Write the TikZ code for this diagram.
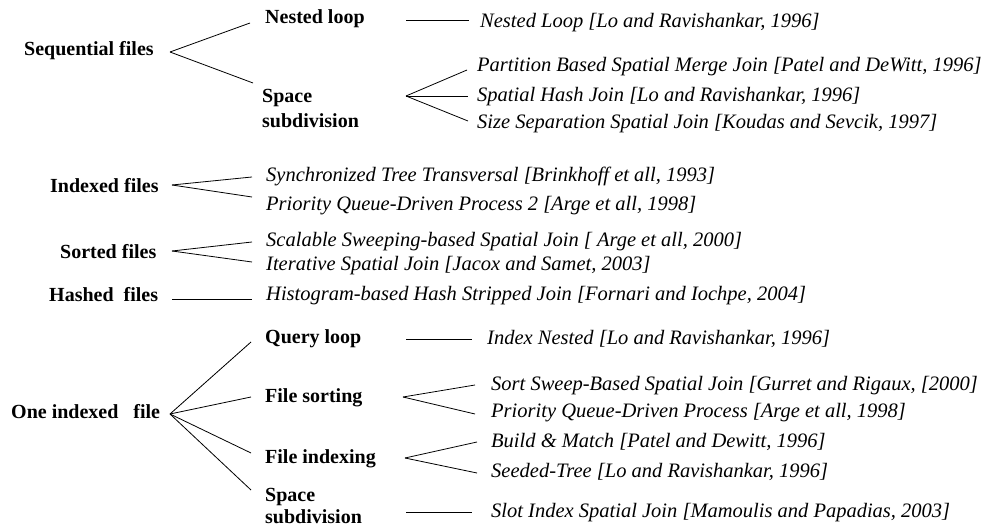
\documentclass[tikz,border=0pt]{standalone}
\usepackage{fontspec}
\setmainfont{Liberation Serif}
\begin{document}
\begin{tikzpicture}[x=1pt,y=-1pt,
  cat/.style={font=\bfseries\fontsize{20}{24}\selectfont, anchor=west, inner sep=0pt, align=left},
  ref/.style={font=\itshape\fontsize{20.5}{24}\selectfont, anchor=west, inner sep=0pt},
  conn/.style={line width=0.8pt}]
\useasboundingbox (0,0) rectangle (1001,526);
% categories
\node[cat] (seq) at (24,51) {Sequential files};
\node[cat] (nl) at (265,19) {Nested loop};
\node[cat] (ss1) at (262,108.5) {Space\\[0.5pt]subdivision};
\node[cat] (idx) at (50,186) {Indexed files};
\node[cat] (srt) at (60,252) {Sorted files};
\node[cat] (hsh) at (49,295) {Hashed\ \ files};
\node[cat] (one) at (11,412) {One indexed\ \ \ file};
\node[cat] (ql) at (265,339) {Query loop};
\node[cat] (fs) at (265,398) {File sorting};
\node[cat] (fi) at (265,459) {File indexing};
\node[cat] (ss2) at (265,506) {Space\\[-2pt]subdivision};
% references
\node[ref] (r1) at (480,23) {Nested Loop [Lo and Ravishankar, 1996]};
\node[ref] (r2) at (477,67) {Partition Based Spatial Merge Join [Patel and DeWitt, 1996]};
\node[ref] (r3) at (477,97) {Spatial Hash Join [Lo and Ravishankar, 1996]};
\node[ref] (r4) at (477,124) {Size Separation Spatial Join [Koudas and Sevcik, 1997]};
\node[ref] (r5) at (266,176) {Synchronized Tree Transversal [Brinkhoff et all, 1993]};
\node[ref] (r6) at (266,206) {Priority Queue-Driven Process 2 [Arge et all, 1998]};
\node[ref] (r7) at (266,242) {Scalable Sweeping-based Spatial Join [ Arge et all, 2000]};
\node[ref] (r8) at (266,266) {Iterative Spatial Join [Jacox and Samet, 2003]};
\node[ref] (r9) at (266,296) {Histogram-based Hash Stripped Join [Fornari and Iochpe, 2004]};
\node[ref] (r10) at (487,339) {Index Nested [Lo and Ravishankar, 1996]};
\node[ref] (r11) at (491,386) {Sort Sweep-Based Spatial Join [Gurret and Rigaux, [2000]};
\node[ref] (r12) at (491,413) {Priority Queue-Driven Process [Arge et all, 1998]};
\node[ref] (r13) at (491,442) {Build \& Match [Patel and Dewitt, 1996]};
\node[ref] (r14) at (491,472) {Seeded-Tree [Lo and Ravishankar, 1996]};
\node[ref] (r15) at (491,513) {Slot Index Spatial Join [Mamoulis and Papadias, 2003]};
% connector points
\coordinate (aseq) at (170,52);
\coordinate (anl) at (406,20);
\coordinate (ass1) at (406,96);
\coordinate (aidx) at (172,185);
\coordinate (asrt) at (172,251);
\coordinate (ahsh) at (172,299);
\coordinate (aone) at (170,414);
\coordinate (aql) at (406,339);
\coordinate (afs) at (403,397);
\coordinate (afi) at (405,458);
\coordinate (ass2) at (406,512);
\draw[conn] (aseq) -- (250,23);
\draw[conn] (aseq) -- (253,83);
\draw[conn] (anl) -- (469,20);
\draw[conn] (ass1) -- (467,70);
\draw[conn] (ass1) -- (468,96);
\draw[conn] (ass1) -- (468,121);
\draw[conn] (aidx) -- (252,177);
\draw[conn] (aidx) -- (252,197);
\draw[conn] (asrt) -- (252,242);
\draw[conn] (asrt) -- (252,262);
\draw[conn] (ahsh) -- (252,299);
\draw[conn] (aone) -- (251,342);
\draw[conn] (aone) -- (251,397);
\draw[conn] (aone) -- (251,453);
\draw[conn] (aone) -- (251,490);
\draw[conn] (aql) -- (472,339);
\draw[conn] (afs) -- (475,385);
\draw[conn] (afs) -- (475,414);
\draw[conn] (afi) -- (477,442);
\draw[conn] (afi) -- (477,473);
\draw[conn] (ass2) -- (472,512);
\end{tikzpicture}
\end{document}
